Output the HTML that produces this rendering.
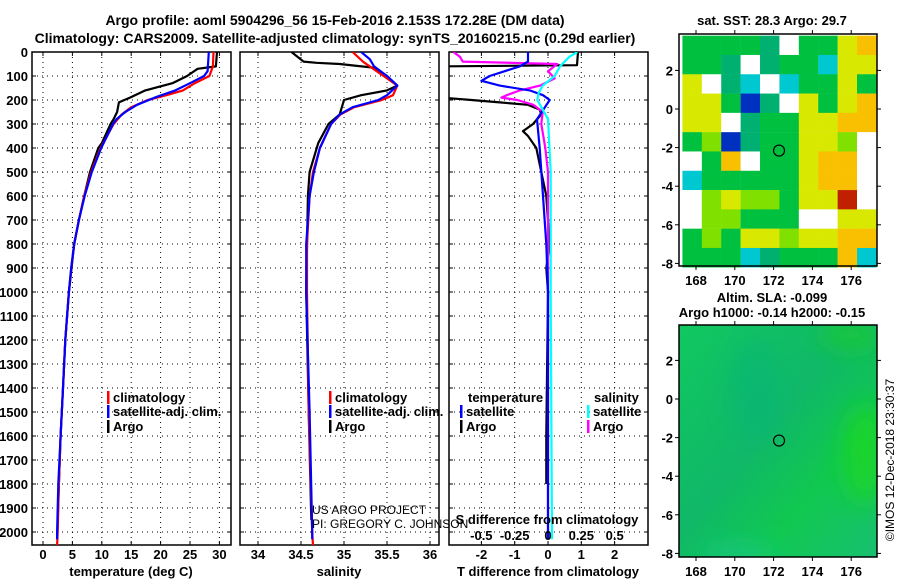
<!DOCTYPE html>
<html><head><meta charset="utf-8">
<style>
html,body{margin:0;padding:0;background:#fff;}
svg{display:block;font-family:"Liberation Sans",Arial,sans-serif;}
.b{font-weight:bold;}
</style></head>
<body>
<svg id="s" width="900" height="580" viewBox="0 0 900 580" xmlns="http://www.w3.org/2000/svg">
<text x="335" y="25" text-anchor="middle" font-size="14" class="b">Argo profile: aoml 5904296_56 15-Feb-2016 2.153S 172.28E (DM data)</text>
<text x="335" y="43" text-anchor="middle" font-size="14" class="b">Climatology: CARS2009. Satellite-adjusted climatology: synTS_20160215.nc (0.29d earlier)</text>
<g id="p1"></g>
<g id="p2"></g>
<g id="p3"></g>
<g id="m1"></g>
<g id="m2"></g>
<g id="cr"></g>
<text transform="translate(894,460) rotate(-90)" text-anchor="middle" font-size="12">©IMOS 12-Dec-2018 23:30:37</text>
</svg>
<script>
// depth ticks
const depthTicks=[0,100,200,300,400,500,600,700,800,900,1000,1100,1200,1300,1400,1500,1600,1700,1800,1900,2000];
// temperature
const tTicks=[0,5,10,15,20,25,30];
const climTD=[0,60,100,130,160,180,200,230,260,300,400,500,600,700,800,900,1000,1200,1400,1600,1800,2000,2055];
const climT=[29,28.9,28.3,25.8,23.8,21,17.8,15,13.4,12,9.8,8.2,7,6.1,5.3,4.8,4.4,3.8,3.4,3.0,2.7,2.5,2.4];
const satTD=[0,80,100,130,160,190,220,250,280,300,400,500,600,700,800,900,1000,1200,1400,1600,1800,2000,2030];
const satT=[28.2,28,27.4,25,22.5,19,16,14,12.5,11.9,9.9,8.3,7.1,6.1,5.3,4.8,4.4,3.8,3.4,3.0,2.6,2.4,2.4];
const argoTD=[0,60,70,100,130,160,190,210,250,280,300,380,400,500,600,700,800,1000,1200,1400,1600,1800,1950];
const argoT=[29.6,29.4,26.3,24.5,22,17.4,14.8,12.9,12.6,12,11.5,10,9.4,8,7,6.1,5.3,4.4,3.8,3.4,3.0,2.7,2.5];
// salinity
const sTicks=[34,34.5,35,35.5,36];
const climSD=[0,40,70,100,140,180,200,230,260,300,400,500,600,800,1000,1500,2000,2055];
const climS=[35.1,35.22,35.34,35.46,35.62,35.57,35.44,35.12,34.96,34.85,34.72,34.64,34.6,34.57,34.57,34.59,34.63,34.64];
const satSD=[0,30,60,100,140,180,200,230,260,300,400,500,600,800,1000,1500,2000,2030];
const satS=[35.2,35.3,35.35,35.5,35.62,35.5,35.4,35.1,34.95,34.85,34.72,34.65,34.6,34.56,34.56,34.6,34.63,34.63];
const argoSD=[0,40,45,50,65,100,140,160,180,200,260,300,380,500,600,1000,1500,1950];
const argoS=[34.39,34.53,34.68,34.95,35.34,35.5,35.62,35.5,35.2,35.0,34.95,34.82,34.7,34.6,34.58,34.56,34.59,34.62];
// differences
const dTTicks=[-2,-1,0,1,2];
const dSTicks=[-0.5,-0.25,0,0.25,0.5];
const dSLabels=["-0.5","-0.25","0","0.25","0.5"];
const argoDTD=[0,55,60,190,200,210,220,240,260,300,330,350,400,500,600,800,900,1000,1600,1800];
const argoDT=[0.9,0.87,-3.2,-3.2,-2.3,-1.45,-0.6,-0.25,-0.2,-0.45,-0.75,-0.6,-0.35,-0.2,-0.05,0.05,-0.05,0,-0.05,-0.05];
const satDTD=[0,40,60,100,120,140,160,180,200,280,400,600,800,1000,2030];
const satDT=[-0.6,-0.6,-0.85,-1.75,-2.0,-1.45,-0.55,-0.15,0.05,-0.33,-0.25,-0.15,-0.05,0,0];
const argoDSD=[0,20,40,50,80,110,140,160,180,190,200,220,250,300,400,500,1000,2000];
const argoDS=[-0.71,-0.66,-0.64,0.07,0.0,0.05,-0.06,-0.21,-0.31,-0.35,-0.23,-0.11,-0.04,-0.05,-0.02,0,0,0];
const satDSD=[0,20,60,100,140,170,200,240,280,500,1000,2030];
const satDS=[0.22,0.16,0.09,0.05,-0.04,-0.07,-0.08,-0.04,0,0.02,0.02,0.03];
// SST map grid (colour codes per 1-degree cell, rows from north)
const sstRows=["GGGGTWGGYO","GGTWTGGCYY","YWTCWCGGYG","YYGBTWYGYO","YYWTGGYYOO","GgBTGGYYgW","WGOWGGYOOW","CGGGGGYOOW","WgYggGYYRW","WggGGGWWYY","GgGYYgYYOO","GGGCTGGGOC"];
const latTicks=[2,0,-2,-4,-6,-8];
const lonTicks=[168,170,172,174,176];
const argoLon=172.28, argoLat=-2.153;

const NS="http://www.w3.org/2000/svg";
function mk(parent,tag,attrs){const e=document.createElementNS(NS,tag);for(const k in attrs)e.setAttribute(k,attrs[k]);parent.appendChild(e);return e;}
const TOPY=52, pxPer100=24, BOTY=545;
const yD=d=>TOPY+d*pxPer100/100;

function panel(g,x0,x1,xs,ticks,labels,showDepth){
  mk(g,'rect',{x:x0,y:TOPY,width:x1-x0,height:BOTY-TOPY,fill:'#fff',stroke:'#000','stroke-width':1.5});
  depthTicks.forEach(d=>{
    const l=mk(g,'line',{x1:x0,x2:x1,y1:yD(d),y2:yD(d),stroke:'#000','stroke-dasharray':'1,4','stroke-width':1});
    
    
    mk(g,'line',{x1:x0,x2:x0+4,y1:yD(d),y2:yD(d),stroke:'#000'});
    mk(g,'line',{x1:x1-4,x2:x1,y1:yD(d),y2:yD(d),stroke:'#000'});
    if(showDepth){const t=mk(g,'text',{x:28,y:yD(d)+5,'text-anchor':'end','font-size':13,'font-weight':'bold'});t.textContent=d;
      
      }
  });
  ticks.forEach((v,i)=>{
    const x=xs(v);
    const l=mk(g,'line',{x1:x,x2:x,y1:TOPY,y2:BOTY,stroke:'#000','stroke-dasharray':'1,4','stroke-width':1});
    
    
    mk(g,'line',{x1:x,x2:x,y1:BOTY-4,y2:BOTY,stroke:'#000'});
    mk(g,'line',{x1:x,x2:x,y1:TOPY,y2:TOPY+4,stroke:'#000'});
    const t=mk(g,'text',{x:x,y:559,'text-anchor':'middle','font-size':13,'font-weight':'bold'});t.textContent=labels[i];
    
    
  });
}
function line(g,xs,vals,deps,col,w,name){
  let d='';vals.forEach((v,i)=>{d+=(i?'L':'M')+xs(v).toFixed(1)+','+yD(deps[i]).toFixed(1);});
  const p=mk(g,'path',{d:d,fill:'none',stroke:col,'stroke-width':w,'stroke-linejoin':'round'});
  
  
  return p;
}
function txt(g,x,y,s,attrs,name){const t=mk(g,'text',Object.assign({x:x,y:y,'font-size':13},attrs||{}));t.textContent=s;
  
  return t;}
function legend(g,x,y,col,label,name){
  const r=mk(g,'rect',{x:x,y:y-10,width:2.5,height:13,fill:col});
  
  
  txt(g,x+6,y+1,label,{'font-weight':'bold','font-size':13},name);
}
const svgRoot=document.getElementById('s');
const defs=mk(svgRoot,'defs',{});
function clip(id,x0,x1){const c=mk(defs,'clipPath',{id:id});mk(c,'rect',{x:x0,y:TOPY,width:x1-x0,height:BOTY-TOPY});}

// Panel 1
const p1=document.getElementById('p1');
const xT=v=>43+v*5.88;
panel(p1,32,231,xT,tTicks,tTicks.map(String),true);
clip('c1',32,231);
const g1=mk(p1,'g',{'clip-path':'url(#c1)'});
line(g1,xT,argoT,argoTD,'#000',2.2,'argo-temperature-line');
line(g1,xT,climT,climTD,'#f00',2.2,'climatology-temperature-line');
line(g1,xT,satT,satTD,'#00f',2.2,'satellite-temperature-line');
legend(p1,107,401,'#f00','climatology','legend-climatology');
legend(p1,107,415,'#00f','satellite-adj. clim.','legend-satellite');
legend(p1,107,430,'#000','Argo','legend-argo');
txt(p1,131,576,'temperature (deg C)',{'text-anchor':'middle','font-weight':'bold'},'x-axis-title-temperature');

// Panel 2
const p2=document.getElementById('p2');
const xS=v=>258+(v-34)*86;
panel(p2,240,439,xS,sTicks,sTicks.map(String),false);
clip('c2',240,439);
const g2=mk(p2,'g',{'clip-path':'url(#c2)'});
line(g2,xS,argoS,argoSD,'#000',2.2,'argo-salinity-line');
line(g2,xS,climS,climSD,'#f00',2.2,'climatology-salinity-line');
line(g2,xS,satS,satSD,'#00f',2.2,'satellite-salinity-line');
legend(p2,329,401,'#f00','climatology','legend-climatology-salinity');
legend(p2,329,415,'#00f','satellite-adj. clim.','legend-satellite-salinity');
legend(p2,329,430,'#000','Argo','legend-argo-salinity');
txt(p2,339,576,'salinity',{'text-anchor':'middle','font-weight':'bold'},'x-axis-title-salinity');

// Panel 3
const p3=document.getElementById('p3');
const xDT=v=>548+v*33.3;
const xDS=v=>548+v*133.3;
panel(p3,449,648,xDT,dTTicks,dTTicks.map(String),false);
clip('c3',449,648);
const g3=mk(p3,'g',{'clip-path':'url(#c3)'});
line(g3,xDT,argoDT,argoDTD,'#000',2.2,'argo-temperature-difference-line');
line(g3,xDS,argoDS,argoDSD,'#f0f',2.2,'argo-salinity-difference-line');
line(g3,xDT,satDT,satDTD,'#00f',2.2,'satellite-temperature-difference-line');
line(g3,xDS,satDS,satDSD,'#0ff',2.2,'satellite-salinity-difference-line');
txt(p3,468,402,'temperature',{'font-weight':'bold'},'legend-temperature-header');
txt(p3,594,402,'salinity',{'font-weight':'bold'},'legend-salinity-header');
legend(p3,460,415,'#00f','satellite','legend-t-satellite');
legend(p3,460,430,'#000','Argo','legend-t-argo');
legend(p3,587,415,'#0ff','satellite','legend-s-satellite');
legend(p3,587,430,'#f0f','Argo','legend-s-argo');
txt(p3,547,524,'S difference from climatology',{'text-anchor':'middle','font-weight':'bold'},'s-difference-axis-title');
dSTicks.forEach((v,i)=>txt(p3,xDS(v),540,dSLabels[i],{'text-anchor':'middle','font-weight':'bold'},'s-tick-label'));
txt(p3,548,576,'T difference from climatology',{'text-anchor':'middle','font-weight':'bold'},'x-axis-title-t-difference');

// credits (drawn on top of panel 3)
const cr=document.getElementById('cr');
txt(cr,312,514,'US ARGO PROJECT',{'font-size':12},'project-credit');
txt(cr,312,528,'PI: GREGORY C. JOHNSON',{'font-size':12},'pi-credit');

// Maps
const lonX=v=>696+(v-168)*19.4;
function mapFrame(g,y0,y1,lat0,labY){
  const latY=v=>lat0-v*19.3;
  mk(g,'rect',{x:679,y:y0,width:198,height:y1-y0,fill:'none',stroke:'#000','stroke-width':1.5});
  latTicks.forEach(v=>{const y=latY(v);
    mk(g,'line',{x1:679,x2:675,y1:y,y2:y,stroke:'#000'});mk(g,'line',{x1:877,x2:881,y1:y,y2:y,stroke:'#000'});
    txt(g,673,y+5,String(v),{'text-anchor':'end','font-weight':'bold'},'lat-tick-label');});
  lonTicks.forEach(v=>{const x=lonX(v);
    mk(g,'line',{x1:x,x2:x,y1:y1,y2:y1+4,stroke:'#000'});mk(g,'line',{x1:x,x2:x,y1:y0,y2:y0-4,stroke:'#000'});
    txt(g,x,labY,String(v),{'text-anchor':'middle','font-weight':'bold'},'lon-tick-label');});
  const c=mk(g,'circle',{cx:lonX(argoLon),cy:latY(argoLat),r:5.5,fill:'none',stroke:'#000','stroke-width':1.2});
  
  
  return latY;
}
const colors={W:'#ffffff',G:'#00c040',g:'#80e000',Y:'#d8e800',O:'#f8c000',R:'#c02000',B:'#0030c0',C:'#00c8d0',T:'#00b070'};
const m1=document.getElementById('m1');
txt(m1,772,25,'sat. SST: 28.3 Argo: 29.7',{'text-anchor':'middle','font-weight':'bold'},'sst-map-title');
const latY1=v=>109-v*19.3;
sstRows.forEach((row,r)=>{[...row].forEach((c,ci)=>{
  const x=lonX(167.3+ci), y=latY1(3.8-r);
  const e=mk(m1,'rect',{x:x,y:y,width:19.6,height:19.5,fill:colors[c]});
  
  
});});
mapFrame(m1,34,266,109,285);

const m2=document.getElementById('m2');
const gr=mk(defs,'linearGradient',{id:'sla',x1:0,y1:0,x2:1,y2:1});
mk(gr,'stop',{offset:'0','stop-color':'#10c860'});
mk(gr,'stop',{offset:'0.45','stop-color':'#10b868'});
mk(gr,'stop',{offset:'0.7','stop-color':'#10c850'});
mk(gr,'stop',{offset:'1','stop-color':'#18c070'});
const fl=mk(defs,'filter',{id:'bl',x:'-50%',y:'-50%',width:'200%',height:'200%'});
mk(fl,'feGaussianBlur',{stdDeviation:12});
const mc=mk(defs,'clipPath',{id:'mc2'});mk(mc,'rect',{x:679,y:325,width:198,height:232});
const bg=mk(m2,'rect',{x:679,y:325,width:198,height:232,fill:'url(#sla)'});


const bl=mk(m2,'g',{'clip-path':'url(#mc2)'});
const gb=mk(bl,'g',{filter:'url(#bl)'});
mk(gb,'ellipse',{cx:865,cy:455,rx:22,ry:50,fill:'#20d820',opacity:0.7});
mk(gb,'ellipse',{cx:850,cy:335,rx:30,ry:15,fill:'#20d020',opacity:0.6});
mk(gb,'ellipse',{cx:740,cy:555,rx:40,ry:10,fill:'#20c8a0',opacity:0.6});
mk(gb,'ellipse',{cx:755,cy:390,rx:25,ry:50,fill:'#10b080',opacity:0.4});
txt(m2,772,302,'Altim. SLA: -0.099',{'text-anchor':'middle','font-weight':'bold'},'sla-map-title');
txt(m2,772,317,'Argo h1000: -0.14 h2000: -0.15',{'text-anchor':'middle','font-weight':'bold'},'sla-map-subtitle');
mapFrame(m2,325,557,399,576);
</script>
</body></html>
